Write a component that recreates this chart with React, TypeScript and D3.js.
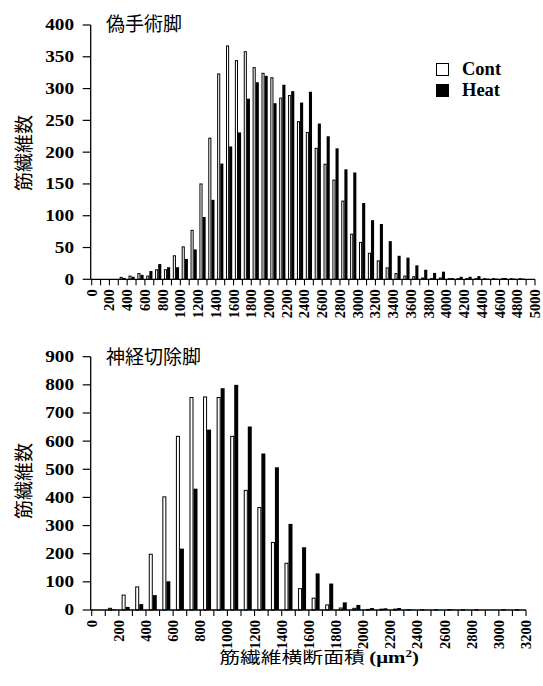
import React from "react";
import * as d3 from "d3";

// ---------- Top panel (偽手術脚) ----------
const topBins = [0, 100, 200, 300, 400, 500, 600, 700, 800, 900, 1000, 1100, 1200, 1300, 1400, 1500, 1600, 1700, 1800, 1900, 2000, 2100, 2200, 2300, 2400, 2500, 2600, 2700, 2800, 2900, 3000, 3100, 3200, 3300, 3400, 3500, 3600, 3700, 3800, 3900, 4000, 4100, 4200, 4300, 4400, 4500, 4600, 4700, 4800, 4900];
const topCont = [0, 0, 0, 3, 5, 9, 5, 15, 15, 37, 51, 77, 150, 222, 323, 367, 344, 358, 333, 324, 317, 285, 289, 248, 231, 206, 181, 156, 123, 71, 58, 41, 29, 18, 9, 5, 4, 2, 1, 2, 1, 1, 1, 1, 1, 1, 1, 1, 1, 0];
const topHeat = [0, 0, 0, 2, 4, 7, 13, 24, 19, 19, 32, 47, 98, 125, 182, 209, 231, 284, 310, 320, 277, 306, 296, 278, 295, 245, 225, 206, 173, 168, 120, 93, 87, 60, 37, 34, 22, 15, 10, 12, 2, 4, 4, 5, 1, 1, 2, 1, 1, 0];
const topXTickLabels = [0, 200, 400, 600, 800, 1000, 1200, 1400, 1600, 1800, 2000, 2200, 2400, 2600, 2800, 3000, 3200, 3400, 3600, 3800, 4000, 4200, 4400, 4600, 4800, 5000];
const topYTicks = [0, 50, 100, 150, 200, 250, 300, 350, 400];

// ---------- Bottom panel (神経切除脚) ----------
const botBins = [0, 100, 200, 300, 400, 500, 600, 700, 800, 900, 1000, 1100, 1200, 1300, 1400, 1500, 1600, 1700, 1800, 1900, 2000, 2100, 2200, 2300, 2400, 2500, 2600, 2700, 2800, 2900, 3000, 3100];
const botCont = [0, 6, 53, 82, 198, 402, 617, 755, 757, 755, 617, 425, 364, 240, 166, 76, 42, 18, 7, 6, 2, 3, 3, 1, 1, 1, 1, 1, 1, 0, 1, 1];
const botHeat = [0, 2, 11, 21, 53, 102, 218, 431, 641, 788, 800, 652, 556, 507, 306, 223, 130, 94, 27, 18, 7, 6, 7, 1, 0, 0, 1, 0, 0, 0, 0, 0];
const botXTickLabels = [0, 200, 400, 600, 800, 1000, 1200, 1400, 1600, 1800, 2000, 2200, 2400, 2600, 2800, 3000, 3200];
const botYTicks = [0, 100, 200, 300, 400, 500, 600, 700, 800, 900];

const seriesNames = ["Cont", "Heat"];

const SERIF = "'Liberation Serif', 'Times New Roman', serif";
const CJK = "'Noto Sans CJK JP', 'Noto Sans', sans-serif";

type PanelProps = {
  bins: number[];
  cont: number[];
  heat: number[];
  xMax: number;
  yMax: number;
  yTicks: number[];
  xTickLabels: number[];
  left: number;
  right: number;
  top: number;
  bottom: number;
  pad: number;
  title: string;
  titleY: number;
  yTitleY: number;
};

function Panel(p: PanelProps) {
  const x = d3.scaleLinear().domain([0, p.xMax]).range([p.left, p.right]);
  const y = d3.scaleLinear().domain([0, p.yMax]).range([p.bottom, p.top]);
  const band = d3
    .scaleBand<number>()
    .domain(p.bins)
    .range([p.left, p.right])
    .paddingInner(p.pad)
    .paddingOuter(p.pad / 2);
  const sub = d3.scaleBand<string>().domain(seriesNames).range([0, band.bandwidth()]);
  const bw = sub.bandwidth();
  const tickVals = [...p.bins, p.xMax];
  const axisX = p.left - 1;

  return (
    <g>
      {p.bins.map((b, i) => {
        const vc = p.cont[i];
        const vh = p.heat[i];
        const bx = band(b) as number;
        return (
          <g key={b}>
            {vc > 0 && (
              <rect
                x={bx + (sub("Cont") as number) + 0.5}
                y={y(vc)}
                width={bw - 1}
                height={p.bottom - y(vc)}
                fill="#fff"
                stroke="#000"
                strokeWidth={1}
              />
            )}
            {vh > 0 && (
              <rect
                x={bx + (sub("Heat") as number)}
                y={y(vh)}
                width={bw}
                height={p.bottom - y(vh)}
                fill="#000"
              />
            )}
          </g>
        );
      })}
      <line x1={axisX} x2={axisX} y1={y(p.yMax)} y2={p.bottom} stroke="#000" strokeWidth={1.3} />
      {p.yTicks.map((t) => (
        <g key={"y" + t}>
          <line x1={axisX - 8} x2={axisX} y1={y(t)} y2={y(t)} stroke="#000" strokeWidth={1.2} />
          <text
            transform={`translate(74,${y(t)}) scale(1.2,1)`}
            textAnchor="end"
            dominantBaseline="central"
            fontFamily={SERIF}
            fontWeight="bold"
            fontSize={16}
          >
            {t}
          </text>
        </g>
      ))}
      <line x1={axisX} x2={p.right} y1={p.bottom} y2={p.bottom} stroke="#000" strokeWidth={1.3} />
      {tickVals.map((t) => (
        <line key={"xt" + t} x1={x(t)} x2={x(t)} y1={p.bottom} y2={p.bottom + 6} stroke="#000" strokeWidth={1.1} />
      ))}
      {p.xTickLabels.map((t) => (
        <text
          key={"xl" + t}
          transform={`translate(${x(t)},${p.bottom + 10}) rotate(-90)`}
          textAnchor="end"
          dominantBaseline="central"
          fontFamily={SERIF}
          fontWeight="bold"
          fontSize={14.5}
        >
          {t}
        </text>
      ))}
      <text x={106} y={p.titleY} fontFamily={CJK} fontSize={19}>
        {p.title}
      </text>
      <text
        transform={`translate(22,${p.yTitleY}) rotate(-90)`}
        textAnchor="middle"
        dominantBaseline="central"
        fontFamily={CJK}
        fontSize={19}
      >
        筋繊維数
      </text>
    </g>
  );
}

export default function App() {
  return (
    <svg
      width={543}
      height={686}
      viewBox="0 0 543 686"
      style={{ position: "absolute", left: 0, top: 0, background: "#fff" }}
    >
      <rect x={0} y={0} width={543} height={686} fill="#fff" />
      <Panel
        bins={topBins}
        cont={topCont}
        heat={topHeat}
        xMax={5000}
        yMax={400}
        yTicks={topYTicks}
        xTickLabels={topXTickLabels}
        left={91.7}
        right={535}
        top={25}
        bottom={279.3}
        pad={0.3}
        title="偽手術脚"
        titleY={31}
        yTitleY={153}
      />
      <Panel
        bins={botBins}
        cont={botCont}
        heat={botHeat}
        xMax={3200}
        yMax={900}
        yTicks={botYTicks}
        xTickLabels={botXTickLabels}
        left={91.7}
        right={526}
        top={356.7}
        bottom={610}
        pad={0.41}
        title="神経切除脚"
        titleY={364}
        yTitleY={481}
      />
      <rect x={436.5} y={63.5} width={12} height={12} fill="#fff" stroke="#000" strokeWidth={1} />
      <rect x={436} y={84} width={13} height={13} fill="#000" />
      <text x={462} y={75} fontFamily={SERIF} fontWeight="bold" fontSize={18.5}>
        {seriesNames[0]}
      </text>
      <text x={462} y={96} fontFamily={SERIF} fontWeight="bold" fontSize={18.5}>
        {seriesNames[1]}
      </text>
      <text
        transform="translate(319,663) scale(1.3,1)"
        textAnchor="middle"
        fontFamily={CJK}
        fontSize={16}
      >
        筋繊維横断面積{" "}
        <tspan fontFamily={SERIF} fontWeight="bold">
          (μm
          <tspan fontSize={10} dy={-6}>
            2
          </tspan>
          <tspan dy={6}>)</tspan>
        </tspan>
      </text>
    </svg>
  );
}
